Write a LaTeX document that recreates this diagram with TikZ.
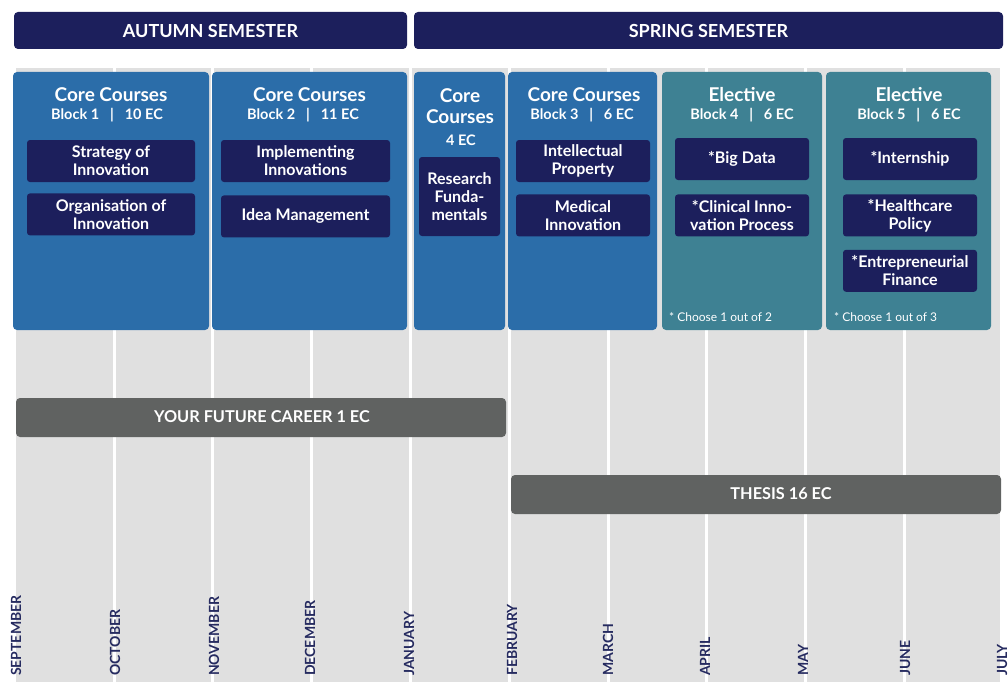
\documentclass[tikz,border=0pt]{standalone}
\usepackage{fontspec}
\setmainfont{Lato}
\usepackage{tikz}
\usetikzlibrary{positioning}
\definecolor{navy}{HTML}{1C1F5C}
\definecolor{coreblue}{HTML}{2B6DA9}
\definecolor{electeal}{HTML}{3E8193}
\definecolor{bargray}{HTML}{606261}
\definecolor{bggray}{HTML}{E0E0E0}
\definecolor{monthtxt}{HTML}{262B60}
\newcommand{\fsz}[2]{\fontsize{#1}{#2}\selectfont}
\tikzstyle{sem}=[fill=navy, rounded corners=4pt, text=white, inner sep=0pt, minimum height=37pt, font=\bfseries\fsz{18}{21}]
\tikzstyle{blk}=[fill=coreblue, rounded corners=4pt, inner sep=0pt, minimum height=258pt]
\tikzstyle{ele}=[blk, fill=electeal]
\tikzstyle{crs}=[fill=navy, rounded corners=3pt, text=white, align=center, inner sep=0pt, minimum width=134pt, minimum height=42pt, font=\bfseries\fsz{16}{18}]
\tikzstyle{ttl}=[text=white, align=center, inner sep=0pt, font=\bfseries\fsz{19}{21}]
\tikzstyle{sub}=[text=white, inner sep=0pt, font=\bfseries\fsz{14.5}{16}]
\tikzstyle{note}=[text=white, anchor=west, inner sep=0pt, font=\fsz{12}{14}]
\tikzstyle{bar}=[fill=bargray, rounded corners=4pt, inner sep=0pt, minimum height=39pt]
\tikzstyle{bartxt}=[text=white, inner sep=0pt, font=\bfseries\fsz{16.3}{19}]
\tikzstyle{mon}=[rotate=90, anchor=west, text=monthtxt, inner sep=0pt, font=\bfseries\fsz{14}{16}]

\begin{document}
\begin{tikzpicture}[x=1pt, y=-1pt, node distance=12pt]
    \useasboundingbox (0,0) rectangle (1008,682);
    % timeline background
    \fill[bggray] (16,68) rectangle (1001,682);
    \foreach \mx in {114,212,311,410,509,608,706,805,904,1001}
        \fill[white] (\mx-1.5,68) rectangle (\mx+1.5,682);

    % semesters
    \node[sem, minimum width=393pt] (aut) at (210.5,30.5) {AUTUMN SEMESTER};
    \node[sem, minimum width=589pt] (spr) at (708.5,30.5) {SPRING SEMESTER};

    % blocks
    \node[blk, minimum width=196pt] (b1) at (111,201) {};
    \node[blk, minimum width=195pt] (b2) at (309.5,201) {};
    \node[blk, minimum width=91pt] (b3) at (459.5,201) {};
    \node[blk, minimum width=149pt] (b4) at (582.5,201) {};
    \node[ele, minimum width=160pt] (b5) at (742,201) {};
    \node[ele, minimum width=165pt] (b6) at (908.5,201) {};

    \node[ttl] (t1) at (111,95) {Core Courses};
    \node[sub] (s1) at (107,115) {Block 1\hspace{0.75em}|\hspace{0.75em}10 EC};
    \node[ttl] (t2) at (309.5,95) {Core Courses};
    \node[sub] (s2) at (303,115) {Block 2\hspace{0.75em}|\hspace{0.75em}11 EC};
    \node[ttl] (t3) at (460,106) {Core\\Courses};
    \node[sub] (s3) at (461,140) {4 EC};
    \node[ttl] (t4) at (584,95) {Core Courses};
    \node[sub] (s4) at (582,115) {Block 3\hspace{0.75em}|\hspace{0.75em}6 EC};
    \node[ttl] (t5) at (742,95) {Elective};
    \node[sub] (s5) at (742,115) {Block 4\hspace{0.75em}|\hspace{0.75em}6 EC};
    \node[ttl] (t6) at (909,95) {Elective};
    \node[sub] (s6) at (909,115) {Block 5\hspace{0.75em}|\hspace{0.75em}6 EC};

    % courses
    \node[crs, minimum width=168pt] (c1a) at (111,161) {Strategy of\\Innovation};
    \node[crs, minimum width=168pt, below=11pt of c1a] (c1b) {Organisation of\\Innovation};
    \node[crs, minimum width=169pt] (c2a) at (305.5,161) {Implementing\\Innovations};
    \node[crs, minimum width=169pt, below=13pt of c2a] (c2b) {Idea Management};
    \node[crs, minimum width=81pt, minimum height=79pt] (c3a) at (459.5,196.5) {Research\\Funda-\\mentals};
    \node[crs] (c4a) at (583,161) {Intellectual\\Property};
    \node[crs, below=12pt of c4a] (c4b) {Medical\\Innovation};
    \node[crs] (c5a) at (742,159) {*Big Data};
    \node[crs, below=14pt of c5a] (c5b) {*Clinical Inno-\\vation Process};
    \node[crs] (c6a) at (910,159) {*Internship};
    \node[crs, below=14pt of c6a] (c6b) {*Healthcare\\Policy};
    \node[crs, below=13pt of c6b] (c6c) {*Entrepreneurial\\Finance};

    \node[note] (n5) at (669,317) {* Choose 1 out of 2};
    \node[note] (n6) at (834,317) {* Choose 1 out of 3};

    % bars
    \node[bar, minimum width=490pt] (car) at (261,417.5) {};
    \node[bartxt] at (262,417) {YOUR FUTURE CAREER 1 EC};
    \node[bar, minimum width=490pt] (the) at (756,494.5) {};
    \node[bartxt] at (781,494) {THESIS 16 EC};

    % months
    \foreach \mx/\mname in {16/SEPTEMBER,115/OCTOBER,214/NOVEMBER,310/DECEMBER,409/JANUARY,512/FEBRUARY,608/MARCH,705/APRIL,803/MAY,905/JUNE,1002/JULY}
        \node[mon] (m\mname) at (\mx,676) {\mname};
\end{tikzpicture}
\end{document}
